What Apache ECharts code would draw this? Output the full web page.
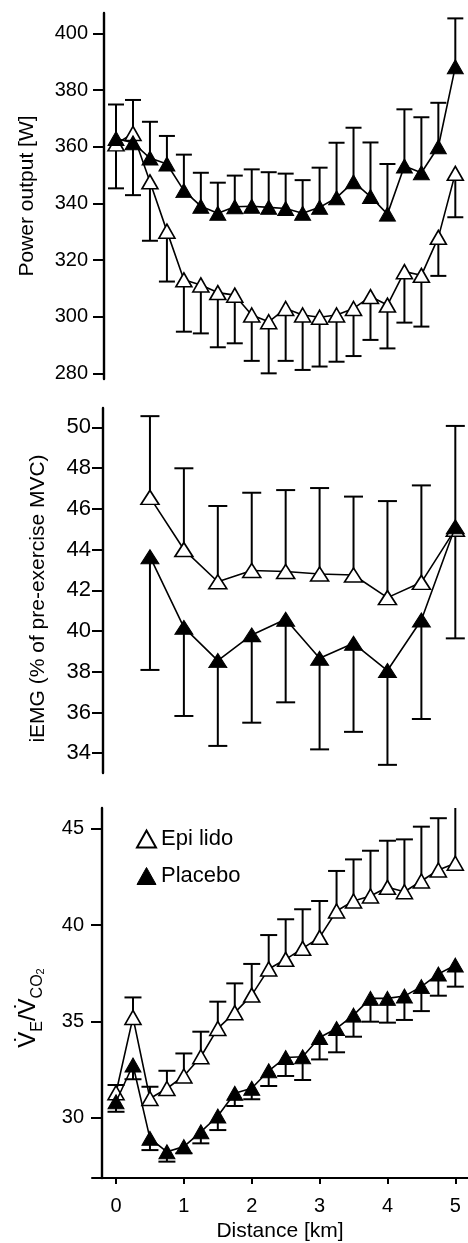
<!DOCTYPE html>
<html>
<head>
<meta charset="utf-8">
<title>Power output, iEMG and VE/VCO2 vs distance</title>
<script src="https://cdn.jsdelivr.net/npm/echarts@6/dist/echarts.min.js"></script>
<style>
  html, body { margin: 0; padding: 0; background: #fff; }
  #chart { width: 468px; height: 1243px; }
</style>
</head>
<body>
<div id="chart"></div>
<script>
  // x positions (km)
  const distance = [0, 0.25, 0.5, 0.75, 1, 1.25, 1.5, 1.75, 2, 2.25, 2.5, 2.75, 3, 3.25, 3.5, 3.75, 4, 4.25, 4.5, 4.75, 5]
  const emgDistance = [0.5, 1, 1.5, 2, 2.5, 3, 3.5, 4, 4.5, 5]
  const distanceTicks = [0, 1, 2, 3, 4, 5]

  // power output [W]
  const powerEpi = [361, 364.7, 347.6, 330.2, 313, 311.2, 308.5, 307.6, 300.6, 298.2, 302.9, 300.6, 299.8, 300.6, 302.9, 307.1, 304.1, 315.9, 314.6, 328, 350.6]
  const powerEpiLow = [345.3, 342.9, 326.8, 312.4, 294.7, 294.1, 289.2, 290.6, 284.4, 280, 284.4, 281.2, 282.4, 284.1, 286.1, 291.8, 288.8, 297.9, 296.5, 314.4, 335.1]
  const powerPlacebo = [362.9, 361.4, 356, 353.9, 344.5, 339, 336.5, 338.8, 339, 338.6, 338.2, 336.5, 338.6, 342, 347.6, 342.4, 336.2, 353.2, 350.8, 360, 388.2]
  const powerPlaceboHigh = [374.9, 376.5, 368.8, 363.8, 357.2, 350.8, 347.3, 349.8, 352, 351, 350.5, 348.2, 352.6, 361.4, 366.7, 361.5, 353.9, 373.2, 370.4, 375.5, 405.3]
  const powerTicks = [280, 300, 320, 340, 360, 380, 400]

  // iEMG (% of pre-exercise MVC)
  const emgEpi = [46.56, 44.0, 42.42, 42.97, 42.92, 42.8, 42.75, 41.64, 42.39, 45.0]
  const emgEpiHigh = [50.55, 47.99, 46.14, 46.79, 46.92, 47.02, 46.6, 46.38, 47.15, 50.07]
  const emgPlacebo = [43.65, 40.18, 38.55, 39.81, 40.58, 38.66, 39.4, 38.06, 40.54, 45.12]
  const emgPlaceboLow = [38.09, 35.83, 34.36, 35.5, 36.5, 34.19, 35.05, 33.43, 35.68, 39.64]
  const emgTicks = [34, 36, 38, 40, 42, 44, 46, 48, 50]

  // VE/VCO2
  const ventEpi = [31.3, 35.21, 31.0, 31.52, 32.17, 33.17, 34.64, 35.46, 36.37, 37.73, 38.23, 38.8, 39.37, 40.74, 41.26, 41.52, 41.97, 41.74, 42.3, 42.87, 43.22]
  const ventEpiHigh = [31.7, 36.25, 31.61, 32.44, 33.34, 34.47, 36.03, 36.98, 37.99, 39.49, 40.31, 40.83, 41.26, 42.82, 43.42, 43.87, 44.39, 44.46, 45.12, 45.56, 46.4]
  const ventPlacebo = [30.83, 32.74, 28.93, 28.23, 28.5, 29.27, 30.09, 31.27, 31.53, 32.44, 33.13, 33.17, 34.17, 34.64, 35.33, 36.2, 36.2, 36.32, 36.81, 37.47, 37.93]
  const ventPlaceboLow = [30.31, 32.0, 28.32, 27.72, 28.15, 28.67, 29.36, 30.61, 30.96, 31.65, 32.17, 31.96, 33.03, 33.4, 34.21, 34.99, 34.94, 35.08, 35.54, 36.34, 36.81]
  const ventTicks = [30, 35, 40, 45]

  const fontFamily = "'Liberation Sans', Arial, Helvetica, sans-serif"

  let chart = echarts.init(document.getElementById('chart'), null, { renderer: 'canvas' })

  function pairs(xs, ys) {
    return xs.map((x, i) => [x, ys[i]])
  }

  function bars(xs, ys, ends) {
    return xs.map((x, i) => [x, ys[i], ends[i]])
  }

  // vertical error bar from the mean to the end value, with a cap; cut at the grid edge
  function errorBar(capWidth) {
    return function (params, api) {
      let start = api.coord([api.value(0), api.value(1)])
      let end = api.coord([api.value(0), api.value(2)])
      let box = params.coordSys
      let top = box.y
      let bottom = box.y + box.height
      let clipped = end[1] < top || end[1] > bottom
      let yEnd = Math.min(Math.max(end[1], top), bottom)
      let style = { stroke: '#000', lineWidth: 2 }
      let children = [{
        type: 'line',
        shape: { x1: start[0], y1: start[1], x2: end[0], y2: yEnd },
        style: style
      }]
      if (!clipped) {
        children.push({
          type: 'line',
          shape: { x1: end[0] - capWidth / 2, y1: yEnd, x2: end[0] + capWidth / 2, y2: yEnd },
          style: style
        })
      }
      return { type: 'group', children: children }
    }
  }

  function errorSeries(idx, data, capWidth) {
    return {
      type: 'custom',
      xAxisIndex: idx,
      yAxisIndex: idx,
      z: 1,
      silent: true,
      renderItem: errorBar(capWidth),
      encode: { x: 0, y: [1, 2] },
      data: data
    }
  }

  function lineSeries(idx, name, data, filled, size) {
    return {
      name: name,
      type: 'line',
      xAxisIndex: idx,
      yAxisIndex: idx,
      z: filled ? 4 : 3,
      symbol: 'triangle',
      symbolSize: size,
      showAllSymbol: true,
      lineStyle: { color: '#000', width: 1.6 },
      itemStyle: filled
        ? { color: '#000', borderColor: '#000', borderWidth: 1 }
        : { color: '#fff', borderColor: '#000', borderWidth: 1.6 },
      emphasis: { disabled: true },
      data: data
    }
  }

  function xAxisFor(idx, visible) {
    return {
      type: 'value',
      gridIndex: idx,
      min: -0.354,
      max: 5.187,
      show: visible,
      name: visible ? 'Distance [km]' : '',
      nameLocation: 'middle',
      nameGap: 43,
      nameTextStyle: { fontSize: 21, color: '#000', fontFamily: fontFamily },
      axisLine: { show: true, onZero: false, lineStyle: { color: '#000', width: 2 } },
      axisTick: { show: true, length: 6, lineStyle: { color: '#000', width: 2 }, customValues: distanceTicks },
      axisLabel: { fontSize: 20, color: '#000', fontFamily: fontFamily, margin: 18, customValues: distanceTicks },
      splitLine: { show: false }
    }
  }

  function yAxisFor(idx, min, max, ticks, offset, labelSize, labelMargin) {
    return {
      type: 'value',
      gridIndex: idx,
      min: min,
      max: max,
      offset: offset,
      nameLocation: 'middle',
      nameRotate: 90,
      axisLine: { show: true, onZero: false, lineStyle: { color: '#000', width: 2.4 } },
      axisTick: { show: true, length: 11, lineStyle: { color: '#000', width: 2 }, customValues: ticks },
      axisLabel: { fontSize: labelSize, color: '#000', fontFamily: fontFamily, margin: labelMargin, customValues: ticks },
      splitLine: { show: false }
    }
  }

  let yPower = yAxisFor(0, 278, 407.2, powerTicks, -12, 20, 16)
  yPower.name = 'Power output [W]'
  yPower.nameGap = 66
  yPower.nameTextStyle = { fontSize: 21, color: '#000', fontFamily: fontFamily }

  let yEmg = yAxisFor(1, 33.03, 50.95, emgTicks, -11, 22, 12)
  yEmg.name = 'iEMG (% of pre-exercise MVC)'
  yEmg.nameGap = 54
  yEmg.nameTextStyle = { fontSize: 21, color: '#000', fontFamily: fontFamily, padding: [0, 16, 0, 0] }

  let yVent = yAxisFor(2, 26.87, 46.09, ventTicks, -10, 20, 18)
  yVent.name = '{v|V\u0307}{s|E}{v|/V\u0307}{s|CO}{ss|2}'
  yVent.nameGap = 56
  yVent.nameTextStyle = {
    color: '#000',
    fontFamily: fontFamily,
    padding: [0, 30, 0, 0],
    rich: {
      v: { fontSize: 24, lineHeight: 36, verticalAlign: 'middle', fontFamily: fontFamily, color: '#000' },
      s: { fontSize: 16, lineHeight: 16, verticalAlign: 'bottom', fontFamily: fontFamily, color: '#000' },
      ss: { fontSize: 11, lineHeight: 11, verticalAlign: 'bottom', fontFamily: fontFamily, color: '#000' }
    }
  }

  chart.setOption({
    animation: false,
    backgroundColor: '#fff',
    grid: [
      { left: 92, right: 0, top: 13, height: 366 },
      { left: 92, right: 0, top: 408, height: 365 },
      { left: 92, right: 0, top: 808, height: 370 }
    ],
    legend: {
      orient: 'vertical',
      left: 131,
      top: 823,
      icon: 'triangle',
      itemWidth: 19,
      itemHeight: 17,
      itemGap: 15,
      selectedMode: false,
      textStyle: { fontSize: 22, color: '#000', fontFamily: fontFamily },
      data: [
        { name: 'Epi lido', itemStyle: { color: '#fff', borderColor: '#000', borderWidth: 2 } },
        { name: 'Placebo', itemStyle: { color: '#000', borderColor: '#000', borderWidth: 1 } }
      ]
    },
    xAxis: [xAxisFor(0, false), xAxisFor(1, false), xAxisFor(2, true)],
    yAxis: [yPower, yEmg, yVent],
    series: [
      // power output
      errorSeries(0, bars(distance, powerEpi, powerEpiLow), 16),
      errorSeries(0, bars(distance, powerPlacebo, powerPlaceboHigh), 16),
      lineSeries(0, 'Epi lido', pairs(distance, powerEpi), false, [16, 14]),
      lineSeries(0, 'Placebo', pairs(distance, powerPlacebo), true, [16, 14]),
      // iEMG
      errorSeries(1, bars(emgDistance, emgEpi, emgEpiHigh), 19),
      errorSeries(1, bars(emgDistance, emgPlacebo, emgPlaceboLow), 19),
      lineSeries(1, 'Epi lido', pairs(emgDistance, emgEpi), false, [18, 14]),
      lineSeries(1, 'Placebo', pairs(emgDistance, emgPlacebo), true, [18, 14]),
      // VE/VCO2
      errorSeries(2, bars(distance, ventEpi, ventEpiHigh), 17),
      errorSeries(2, bars(distance, ventPlacebo, ventPlaceboLow), 17),
      lineSeries(2, 'Epi lido', pairs(distance, ventEpi), false, [16, 14]),
      lineSeries(2, 'Placebo', pairs(distance, ventPlacebo), true, [16, 14])
    ]
  })

  window.addEventListener('resize', function () {
    chart.resize()
  })
</script>
</body>
</html>
